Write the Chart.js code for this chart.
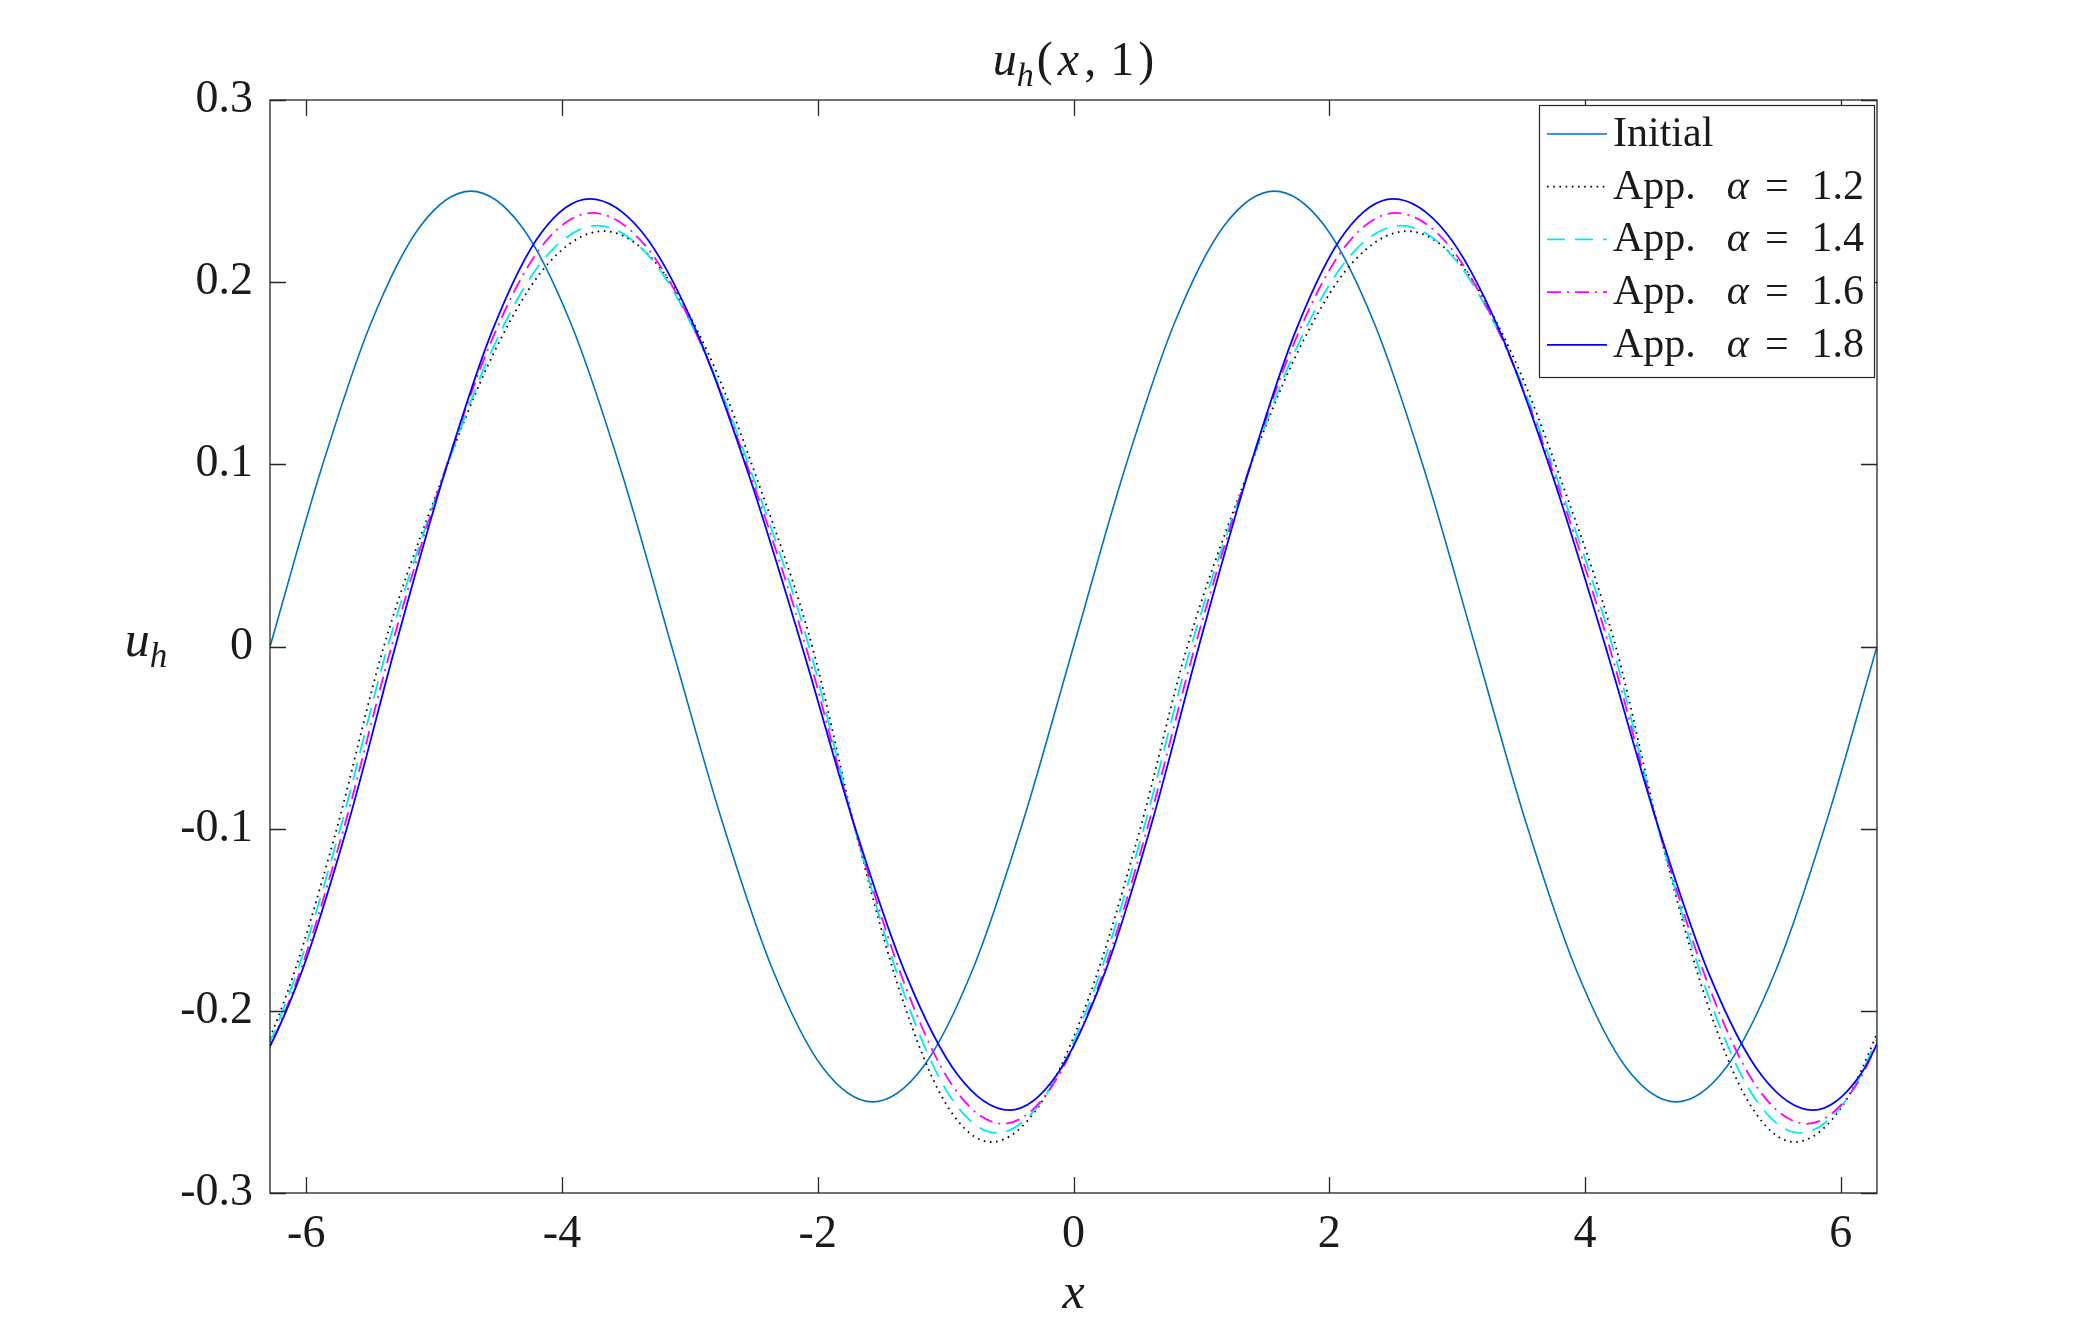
<!DOCTYPE html>
<html>
<head>
<meta charset="utf-8">
<title>u_h(x,1)</title>
<script src="https://cdn.jsdelivr.net/npm/chart.js@4.4.1/dist/chart.umd.min.js"></script>
<style>
  html, body { margin: 0; padding: 0; background: #fff; }
  #wrap { width: 2074px; height: 1340px; position: relative; }
</style>
</head>
<body>
<div id="wrap"><canvas id="uhChart"></canvas></div>
<script>
// u_h(x,1): initial profile vs. the approximations for several alpha
var xTicks = [-6, -4, -2, 0, 2, 4, 6];
var yTicks = [-0.3, -0.2, -0.1, 0, 0.1, 0.2, 0.3];
var xMin = -6.2832, xMax = 6.2832;

var seriesLabels = ['Initial', 'App.  α = 1.2', 'App.  α = 1.4', 'App.  α = 1.6', 'App.  α = 1.8'];

var initX = [-6.283, -5.890, -5.498, -5.105, -4.712, -4.320, -3.927, -3.534, -3.142, -2.749, -2.356,
  -1.963, -1.571, -1.178, -0.785, -0.393, 0, 0.393, 0.785, 1.178, 1.571, 1.963, 2.356, 2.749, 3.142,
  3.534, 3.927, 4.320, 4.712, 5.105, 5.498, 5.890, 6.283];
var initY = [0, 0.0957, 0.1768, 0.2310, 0.25, 0.2310, 0.1768, 0.0957, 0, -0.0957, -0.1768,
  -0.2310, -0.25, -0.2310, -0.1768, -0.0957, 0, 0.0957, 0.1768, 0.2310, 0.25, 0.2310, 0.1768, 0.0957, 0,
  -0.0957, -0.1768, -0.2310, -0.25, -0.2310, -0.1768, -0.0957, 0];

var a12X = [-6.928, -6.544, -6.160, -5.777, -5.393, -4.963, -4.533, -4.103, -3.673, -3.266, -2.858, -2.451,
  -2.043, -1.694, -1.344, -0.995, -0.645, -0.261, 0.122, 0.506, 0.890, 1.320, 1.750, 2.180, 2.610, 3.018,
  3.425, 3.833, 4.240, 4.590, 4.939, 5.289, 5.638, 6.022, 6.405];
var a12Y = [-0.272, -0.2513, -0.1923, -0.1041, 0, 0.0873, 0.1612, 0.2106, 0.228, 0.2106, 0.1612, 0.0873,
  0, -0.1041, -0.1923, -0.2513, -0.272, -0.2513, -0.1923, -0.1041, 0, 0.0873, 0.1612, 0.2106, 0.228, 0.2106,
  0.1612, 0.0873, 0, -0.1041, -0.1923, -0.2513, -0.272, -0.2513, -0.1923];

var a14X = [-6.883, -6.503, -6.123, -5.743, -5.363, -4.953, -4.543, -4.133, -3.723, -3.309, -2.896, -2.482,
  -2.068, -1.701, -1.334, -0.967, -0.600, -0.220, 0.160, 0.540, 0.920, 1.330, 1.740, 2.150, 2.560, 2.974,
  3.388, 3.801, 4.215, 4.582, 4.949, 5.316, 5.683, 6.063, 6.443];
var a14Y = [-0.267, -0.2467, -0.1888, -0.1022, 0, 0.0884, 0.1633, 0.2134, 0.231, 0.2134, 0.1633, 0.0884,
  0, -0.1022, -0.1888, -0.2467, -0.267, -0.2467, -0.1888, -0.1022, 0, 0.0884, 0.1633, 0.2134, 0.231, 0.2134,
  0.1633, 0.0884, 0, -0.1022, -0.1888, -0.2467, -0.267, -0.2467, -0.1888];

var a16X = [-6.833, -6.458, -6.083, -5.708, -5.333, -4.941, -4.548, -4.156, -3.763, -3.346, -2.928, -2.511,
  -2.093, -1.707, -1.321, -0.936, -0.550, -0.175, 0.200, 0.575, 0.950, 1.343, 1.735, 2.128, 2.520, 2.938,
  3.355, 3.773, 4.190, 4.576, 4.962, 5.347, 5.733, 6.108, 6.483];
var a16Y = [-0.262, -0.2421, -0.1853, -0.1003, 0, 0.0911, 0.1683, 0.2199, 0.238, 0.2199, 0.1683, 0.0911,
  0, -0.1003, -0.1853, -0.2421, -0.262, -0.2421, -0.1853, -0.1003, 0, 0.0911, 0.1683, 0.2199, 0.238, 0.2199,
  0.1683, 0.0911, 0, -0.1003, -0.1853, -0.2421, -0.262, -0.2421, -0.1853];

var a18X = [-6.783, -6.413, -6.043, -5.673, -5.303, -4.923, -4.543, -4.163, -3.783, -3.368, -2.953, -2.538,
  -2.123, -1.717, -1.311, -0.906, -0.500, -0.130, 0.240, 0.610, 0.980, 1.360, 1.740, 2.120, 2.500, 2.915,
  3.330, 3.745, 4.160, 4.566, 4.971, 5.377, 5.783, 6.153, 6.523];
var a18Y = [-0.2545, -0.2351, -0.1800, -0.0974, 0, 0.0940, 0.1737, 0.2270, 0.2457, 0.2270, 0.1737, 0.0940,
  0, -0.0974, -0.1800, -0.2351, -0.2545, -0.2351, -0.1800, -0.0974, 0, 0.0940, 0.1737, 0.2270, 0.2457, 0.2270,
  0.1737, 0.0940, 0, -0.0974, -0.1800, -0.2351, -0.2545, -0.2351, -0.1800];

var FONT = '"Liberation Serif", "Times New Roman", serif';
var INK = '#1a1a1a';

function pairs(xs, ys) {
  return xs.map(function(x, i) { return { x: x, y: ys[i] }; });
}

function fontFor(p, size) {
  var s = p.sub ? Math.round(size * 0.7) : size;
  return (p.it ? 'italic ' : '') + s + 'px ' + FONT;
}

// draw a run of text pieces (italic / subscript) centred on cx
function drawParts(ctx, parts, cx, baseline, size) {
  var widths = parts.map(function(p) {
    ctx.font = fontFor(p, size);
    return ctx.measureText(p.t).width + (p.gap || 0);
  });
  var total = widths.reduce(function(a, b) { return a + b; }, 0);
  var x = cx - total / 2;
  parts.forEach(function(p, i) {
    ctx.font = fontFor(p, size);
    ctx.fillText(p.t, x, baseline + (p.sub ? size * 0.22 : 0));
    x += widths[i];
  });
}

var matlabAxes = {
  id: 'matlabAxes',
  afterDatasetsDraw: function(chart) {
    var ctx = chart.ctx;
    var a = chart.chartArea;
    var xs = chart.scales.x, ys = chart.scales.y;
    var tick = 16;

    ctx.save();
    // box + inward ticks on all four sides
    ctx.strokeStyle = '#262626';
    ctx.lineWidth = 1.3;
    ctx.strokeRect(a.left, a.top, a.right - a.left, a.bottom - a.top);
    ctx.beginPath();
    xTicks.forEach(function(v) {
      var px = Math.round(xs.getPixelForValue(v)) + 0.5;
      ctx.moveTo(px, a.bottom); ctx.lineTo(px, a.bottom - tick);
      ctx.moveTo(px, a.top); ctx.lineTo(px, a.top + tick);
    });
    yTicks.forEach(function(v) {
      var py = Math.round(ys.getPixelForValue(v)) + 0.5;
      ctx.moveTo(a.left, py); ctx.lineTo(a.left + tick, py);
      ctx.moveTo(a.right, py); ctx.lineTo(a.right - tick, py);
    });
    ctx.stroke();

    // title and axis labels
    ctx.fillStyle = INK;
    ctx.textAlign = 'left';
    ctx.textBaseline = 'alphabetic';
    var cx = (a.left + a.right) / 2;
    drawParts(ctx, [
      { t: 'u', it: true }, { t: 'h', it: true, sub: true, gap: 3 },
      { t: '(', gap: 5 }, { t: 'x', it: true, gap: 5 }, { t: ',', gap: 14 },
      { t: '1', gap: 4 }, { t: ')' }
    ], cx, 75, 48);
    drawParts(ctx, [{ t: 'x', it: true }], cx, 1308, 50);
    drawParts(ctx, [{ t: 'u', it: true }, { t: 'h', it: true, sub: true }], 146, 656, 50);

    // legend in the upper right corner
    var sets = chart.data.datasets;
    var bx = a.right - 338, by = a.top + 5, bw = 335, bh = 272;
    ctx.fillStyle = '#ffffff';
    ctx.fillRect(bx, by, bw, bh);
    ctx.strokeStyle = '#262626';
    ctx.lineWidth = 1.2;
    ctx.strokeRect(bx + 0.5, by + 0.5, bw, bh);
    var gaps = [31, 16, 23];
    sets.forEach(function(ds, i) {
      var ly = by + 29 + i * 52.7;
      ctx.save();
      ctx.strokeStyle = ds.borderColor;
      ctx.lineWidth = ds.borderWidth;
      ctx.setLineDash(ds.borderDash || []);
      ctx.beginPath();
      ctx.moveTo(bx + 8, ly);
      ctx.lineTo(bx + 68, ly);
      ctx.stroke();
      ctx.restore();

      ctx.fillStyle = INK;
      var tx = bx + 74;
      var pieces = ds.label.split(/\s+/);
      pieces.forEach(function(pc, k) {
        ctx.font = (pc === 'α' ? 'italic ' : '') + '42px ' + FONT;
        ctx.fillText(pc, tx, ly + 12);
        tx += ctx.measureText(pc).width + (gaps[k] || 0);
      });
    });
    ctx.restore();
  }
};

document.addEventListener('DOMContentLoaded', function() {
  var canvas = document.getElementById('uhChart');
  var ctx = canvas.getContext('2d');

  new Chart(ctx, {
    type: 'line',
    data: {
      datasets: [
        {
          label: seriesLabels[0],
          data: pairs(initX, initY),
          borderColor: '#0072BD',
          borderWidth: 1.6,
          order: 5
        },
        {
          label: seriesLabels[1],
          data: pairs(a12X, a12Y),
          borderColor: '#000000',
          borderWidth: 1.8,
          borderDash: [1.6, 4.6],
          order: 4
        },
        {
          label: seriesLabels[2],
          data: pairs(a14X, a14Y),
          borderColor: 'rgb(0, 235, 235)',
          borderWidth: 1.8,
          borderDash: [18, 10],
          order: 3
        },
        {
          label: seriesLabels[3],
          data: pairs(a16X, a16Y),
          borderColor: '#FF00FF',
          borderWidth: 1.8,
          borderDash: [14, 6, 2, 6],
          order: 2
        },
        {
          label: seriesLabels[4],
          data: pairs(a18X, a18Y),
          borderColor: '#0000FF',
          borderWidth: 1.8,
          order: 1
        }
      ]
    },
    options: {
      responsive: true,
      maintainAspectRatio: false,
      animation: false,
      events: [],
      elements: {
        point: { radius: 0 },
        line: { cubicInterpolationMode: 'monotone', fill: false }
      },
      layout: {
        padding: { left: 0, right: 197, top: 100, bottom: 0 }
      },
      plugins: {
        legend: { display: false },
        title: { display: false },
        tooltip: { enabled: false }
      },
      scales: {
        x: {
          type: 'linear',
          min: xMin,
          max: xMax,
          grid: { display: false, drawTicks: false },
          border: { display: false },
          afterBuildTicks: function(scale) {
            scale.ticks = xTicks.map(function(v) { return { value: v }; });
          },
          afterFit: function(scale) { scale.height = 147; },
          ticks: {
            autoSkip: false,
            maxRotation: 0,
            padding: 14,
            color: INK,
            font: { family: FONT, size: 46 },
            callback: function(v) { return String(v); }
          }
        },
        y: {
          type: 'linear',
          min: -0.3,
          max: 0.3,
          grid: { display: false, drawTicks: false },
          border: { display: false },
          afterBuildTicks: function(scale) {
            scale.ticks = yTicks.map(function(v) { return { value: v }; });
          },
          afterFit: function(scale) { scale.width = 270; },
          ticks: {
            autoSkip: false,
            padding: 17,
            color: INK,
            font: { family: FONT, size: 46 },
            callback: function(v) { return String(Math.round(v * 10) / 10); }
          }
        }
      }
    },
    plugins: [matlabAxes]
  });
});
</script>
</body>
</html>
